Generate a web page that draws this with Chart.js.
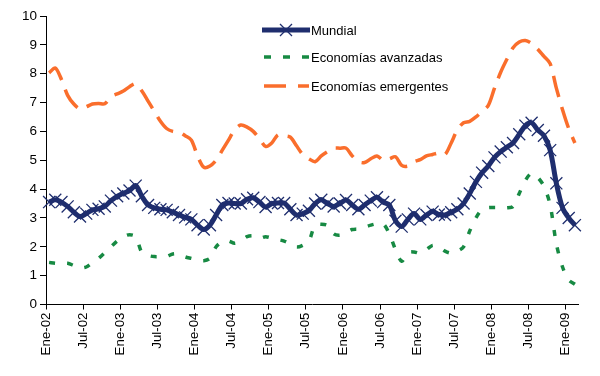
<!DOCTYPE html>
<html>
<head>
<meta charset="utf-8">
<script src="https://cdn.jsdelivr.net/npm/chart.js@4/dist/chart.umd.min.js"></script>
<style>
  body { margin: 0; background: #fff; }
</style>
</head>
<body>
<canvas id="inflacionChart" width="600" height="376"></canvas>
<script>
// Monthly values, Ene-02 .. Feb-09 (86 months)
const mundial = [
  3.55, 3.63, 3.55, 3.4, 3.2, 3.05, 3.15, 3.28, 3.32, 3.4, 3.6, 3.75,
  3.85, 3.95, 4.12, 3.75, 3.45, 3.35, 3.3, 3.28, 3.2, 3.1, 3.02, 2.95,
  2.75, 2.6, 2.75, 3.1, 3.45, 3.52, 3.5, 3.5, 3.65, 3.7, 3.55, 3.38,
  3.5, 3.52, 3.52, 3.3, 3.1, 3.15, 3.25, 3.5, 3.63, 3.5, 3.4, 3.5,
  3.62, 3.45, 3.3, 3.45, 3.6, 3.72, 3.55, 3.45, 2.9, 2.7, 2.95, 3.15,
  2.95, 3.1, 3.22, 3.12, 3.1, 3.2, 3.3, 3.5, 3.85, 4.25, 4.57, 4.8,
  5.1, 5.3, 5.45, 5.6, 5.9, 6.2, 6.3, 6.05, 5.85, 5.35, 4.2, 3.35,
  3.0, 2.75
];
const avanzadas = [
  1.46, 1.43, 1.42, 1.43, 1.35, 1.27, 1.3, 1.45, 1.6, 1.8, 2.0, 2.2,
  2.35, 2.42, 2.35, 1.8, 1.7, 1.66, 1.66, 1.66, 1.75, 1.75, 1.65, 1.6,
  1.55, 1.52, 1.6, 2.0, 2.18, 2.2, 2.12, 2.2, 2.35, 2.38, 2.3, 2.35,
  2.3, 2.25, 2.2, 2.1, 1.99, 2.05, 2.2, 2.75, 2.78, 2.74, 2.45, 2.4,
  2.5, 2.6, 2.62, 2.68, 2.75, 2.8, 2.8, 2.45, 1.9, 1.5, 1.8, 1.82,
  1.78, 1.9, 2.05, 2.0, 1.85, 1.78, 1.85, 2.0, 2.55, 3.0, 3.3, 3.36,
  3.36, 3.36, 3.35, 3.4, 3.85, 4.3, 4.55, 4.4, 4.1, 3.45, 2.1, 1.3,
  0.85, 0.7
];
const emergentes = [
  8.03, 8.2, 7.8, 7.25, 6.95, 6.78, 6.85, 6.95, 6.97, 6.96, 7.2, 7.3,
  7.4, 7.55, 7.65, 7.4, 7.05, 6.7, 6.35, 6.1, 6.0, 5.98, 5.85, 5.7,
  5.15, 4.76, 4.8, 5.0, 5.35, 5.7, 6.05, 6.22, 6.15, 6.0, 5.75, 5.48,
  5.6, 5.88, 5.85, 5.8, 5.5, 5.2, 5.05, 4.95, 5.15, 5.3, 5.42, 5.42,
  5.42, 5.15, 4.95, 4.92, 5.05, 5.15, 5.0, 5.05, 5.12, 4.82, 4.8, 4.95,
  5.02, 5.15, 5.2, 5.25, 5.2, 5.6, 6.05, 6.3, 6.35, 6.5, 6.7, 6.9,
  7.5, 8.05, 8.5, 8.9, 9.1, 9.15, 9.05, 8.85, 8.6, 8.35, 7.5, 6.75,
  6.1, 5.6
];
const tickLabels = [
  'Ene-02', 'Jul-02', 'Ene-03', 'Jul-03', 'Ene-04', 'Jul-04', 'Ene-05', 'Jul-05',
  'Ene-06', 'Jul-06', 'Ene-07', 'Jul-07', 'Ene-08', 'Jul-08', 'Ene-09'
];
const seriesNames = ['Mundial', 'Economías avanzadas', 'Economías emergentes'];

const navy = '#1f2e6e';
const green = '#178a43';
const orange = '#fa6e2c';
const font = 'Arial, "Liberation Sans", sans-serif';

const toPoints = (arr) => arr.map((v, i) => ({ x: i, y: v }));

// legend drawn inside the plot, Excel style
const insideLegend = {
  id: 'insideLegend',
  afterDraw(chart) {
    const ctx = chart.ctx;
    const rows = [
      { y: 30, color: navy, width: 5, dash: [], marker: true },
      { y: 57, color: green, width: 3.5, dash: [7, 12] },
      { y: 86, color: orange, width: 3.5, dash: [22, 12] },
    ];
    ctx.save();
    rows.forEach((r, i) => {
      ctx.beginPath();
      ctx.setLineDash(r.dash);
      ctx.strokeStyle = r.color;
      ctx.lineWidth = r.width;
      ctx.moveTo(r.marker ? 262 : 264, r.y);
      ctx.lineTo(r.marker ? 310 : 309, r.y);
      ctx.stroke();
      if (r.marker) {
        ctx.setLineDash([]);
        ctx.lineWidth = 1.3;
        ctx.beginPath();
        ctx.moveTo(280, r.y - 6); ctx.lineTo(292, r.y + 6);
        ctx.moveTo(280, r.y + 6); ctx.lineTo(292, r.y - 6);
        ctx.stroke();
      }
      ctx.fillStyle = '#000';
      ctx.font = '13px ' + font;
      ctx.textBaseline = 'middle';
      ctx.fillText(seriesNames[i], 311, r.y + 1);
    });
    ctx.restore();
  }
};

const ctx = document.getElementById('inflacionChart').getContext('2d');
new Chart(ctx, {
  type: 'line',
  data: {
    datasets: [
      {
        label: seriesNames[0],
        data: toPoints(mundial),
        borderColor: navy,
        borderWidth: 5,
        tension: 0.3,
        pointStyle: 'crossRot',
        pointRadius: 8.5,
        pointBorderWidth: 1.3,
        pointBorderColor: navy,
        pointBackgroundColor: navy,
        clip: false,
      },
      {
        label: seriesNames[1],
        data: toPoints(avanzadas),
        borderColor: green,
        borderWidth: 3.5,
        borderDash: [6, 12],
        tension: 0.3,
        pointRadius: 0,
      },
      {
        label: seriesNames[2],
        data: toPoints(emergentes),
        borderColor: orange,
        borderWidth: 3.5,
        borderDash: [22, 10],
        tension: 0.3,
        pointRadius: 0,
      },
    ],
  },
  options: {
    responsive: false,
    animation: false,
    layout: { padding: { top: 16, right: 22, left: 0, bottom: 0 } },
    plugins: {
      legend: { display: false },
      tooltip: { enabled: false },
    },
    scales: {
      x: {
        type: 'linear',
        min: -0.5,
        max: 85.5,
        afterBuildTicks: (scale) => {
          scale.ticks = tickLabels.map((_, k) => ({ value: k * 6 - 0.5 }));
        },
        afterFit: (scale) => { scale.height = 71.5; },
        ticks: {
          autoSkip: false,
          minRotation: 90,
          maxRotation: 90,
          padding: 3,
          color: '#000',
          font: { family: font, size: 13.3 },
          callback: (value, index) => tickLabels[index],
        },
        grid: { drawOnChartArea: false, tickLength: 5, color: '#000' },
        border: { color: '#000', width: 1 },
      },
      y: {
        min: 0,
        max: 10,
        afterFit: (scale) => { scale.width = 46; },
        ticks: {
          stepSize: 1,
          padding: 3,
          color: '#000',
          font: { family: font, size: 13.5 },
        },
        grid: { drawOnChartArea: false, tickLength: 6, color: '#000' },
        border: { color: '#000', width: 1 },
      },
    },
  },
  plugins: [insideLegend],
});
</script>
</body>
</html>
